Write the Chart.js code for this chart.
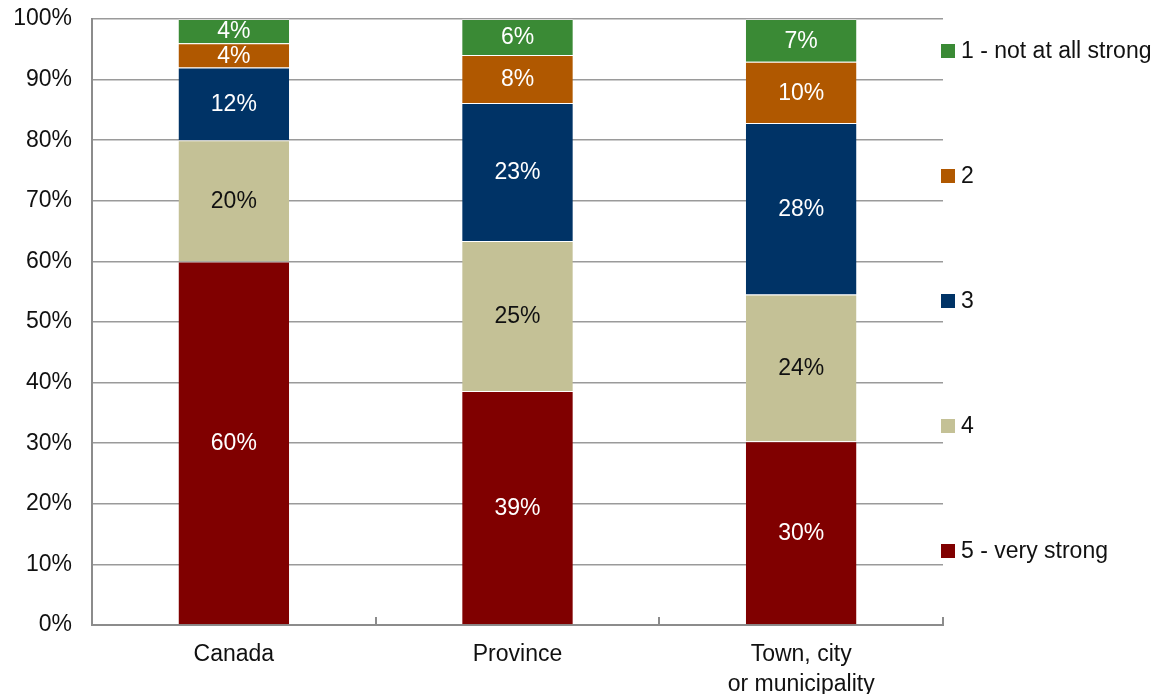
<!DOCTYPE html>
<html>
<head>
<meta charset="utf-8">
<script src="https://cdn.jsdelivr.net/npm/chart.js@4/dist/chart.umd.min.js"></script>
<style>
  html, body { margin: 0; padding: 0; background: #fff; }
  #wrap { width: 1163px; height: 694px; position: relative; }
</style>
</head>
<body>
<div id="wrap"><canvas id="chart"></canvas></div>
<script>
const categories = ['Canada', 'Province', ['Town, city', 'or municipality']];
const seriesNames = ['5 - very strong', '4', '3', '2', '1 - not at all strong'];
const veryStrong = [60, 39, 30];
const four = [20, 25, 24];
const three = [12, 23, 28];
const two = [4, 8, 10];
const notAtAll = [4, 6, 7];
const yTicks = [0, 10, 20, 30, 40, 50, 60, 70, 80, 90, 100];

const colors = ['#800000', '#c4c196', '#003366', '#b05800', '#3a8a35'];
const textColors = ['#fff', '#111', '#fff', '#fff', '#fff'];
const FONT = '"Liberation Sans", Arial, sans-serif';
const FONT_SIZE = 23;

const raw = [veryStrong, four, three, two, notAtAll];
// each column is shown as a share of its own total (100% stacked)
const totals = categories.map((_, j) => raw.reduce((s, arr) => s + arr[j], 0));

const datasets = raw.map((arr, i) => ({
  label: seriesNames[i],
  raw: arr,
  data: arr.map((v, j) => v / totals[j] * 100),
  backgroundColor: colors[i],
  borderColor: 'rgba(255,255,255,0.3)',
  borderWidth: { top: 1 },
  borderSkipped: false,
  labelColor: textColors[i],
  barPercentage: 0.39,
  categoryPercentage: 1
}));

const segLabels = {
  id: 'segLabels',
  afterDatasetsDraw(chart) {
    const ctx = chart.ctx;
    ctx.save();
    ctx.font = FONT_SIZE + 'px ' + FONT;
    ctx.textAlign = 'center';
    ctx.textBaseline = 'middle';
    chart.data.datasets.forEach((ds, i) => {
      chart.getDatasetMeta(i).data.forEach((bar, j) => {
        ctx.fillStyle = ds.labelColor;
        ctx.fillText(ds.raw[j] + '%', bar.x, (bar.y + bar.base) / 2 + 1);
      });
    });
    ctx.restore();
  }
};

// small upward ticks on the category axis between columns
const catTicks = {
  id: 'catTicks',
  afterDraw(chart) {
    const x = chart.scales.x, ctx = chart.ctx;
    const n = chart.data.labels.length;
    const step = (x.right - x.left) / n;
    ctx.save();
    ctx.strokeStyle = '#8c8c8c';
    ctx.lineWidth = 2;
    for (let i = 1; i <= n; i++) {
      const px = Math.round(x.left + i * step);
      ctx.beginPath();
      ctx.moveTo(px, x.top - 8);
      ctx.lineTo(px, x.top);
      ctx.stroke();
    }
    ctx.restore();
  }
};

// legend on the right, top entry first
const sideLegend = {
  id: 'sideLegend',
  afterDraw(chart) {
    const ctx = chart.ctx, area = chart.chartArea;
    const items = chart.data.datasets.slice().reverse();
    ctx.save();
    ctx.font = FONT_SIZE + 'px ' + FONT;
    ctx.textBaseline = 'middle';
    ctx.textAlign = 'left';
    items.forEach((ds, k) => {
      const cy = area.top + 32 + k * 125;
      ctx.fillStyle = ds.backgroundColor;
      ctx.fillRect(area.right - 2, cy - 7, 14, 14);
      ctx.fillStyle = '#111';
      ctx.fillText(ds.label, area.right + 18, cy + 1);
    });
    ctx.restore();
  }
};

new Chart(document.getElementById('chart'), {
  type: 'bar',
  data: { labels: categories, datasets },
  plugins: [segLabels, catTicks, sideLegend],
  options: {
    responsive: true,
    maintainAspectRatio: false,
    animation: false,
    layout: { autoPadding: false, padding: { left: 0, right: 220, top: 19, bottom: 0 } },
    plugins: {
      legend: { display: false },
      tooltip: { enabled: false }
    },
    scales: {
      x: {
        stacked: true,
        grid: { display: false },
        border: { display: true, color: '#8c8c8c', width: 2 },
        ticks: {
          color: '#111',
          font: { family: FONT, size: FONT_SIZE, lineHeight: 1.3 },
          padding: 7,
          maxRotation: 0
        },
        afterFit(scale) {
          scale.height = 69;
          scale.paddingLeft = 0;
          scale.paddingRight = 0;
        }
      },
      y: {
        stacked: true,
        min: 0,
        max: 100,
        afterBuildTicks(scale) { scale.ticks = yTicks.map(v => ({ value: v })); },
        grid: { color: '#9a9a9a', lineWidth: 1.5, drawTicks: false },
        border: { display: true, color: '#8c8c8c', width: 2 },
        ticks: {
          color: '#111',
          font: { family: FONT, size: FONT_SIZE },
          padding: 20,
          callback: v => v + '%'
        },
        afterFit(scale) {
          scale.width = 92;
          scale.paddingTop = 0;
          scale.paddingBottom = 0;
        }
      }
    }
  }
});
</script>
</body>
</html>
